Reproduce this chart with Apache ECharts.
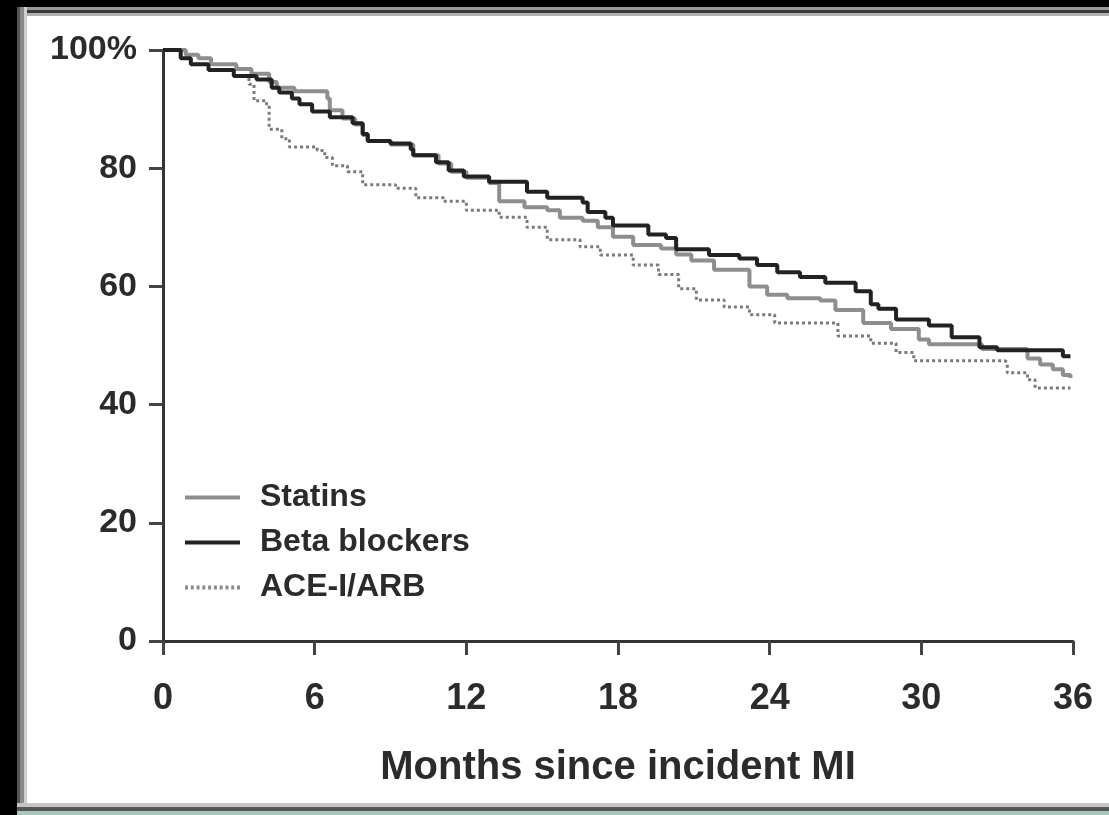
<!DOCTYPE html>
<html>
<head>
<meta charset="utf-8">
<script src="https://cdn.jsdelivr.net/npm/echarts@6/dist/echarts.min.js"></script>
<style>
  html, body { margin: 0; padding: 0; background: #000; }
  #frame { position: absolute; left: 17px; top: 7px; width: 1092px; height: 808px; background: #fff; }
  #bt1 { position: absolute; left: 17px; top: 7px; width: 1092px; height: 3px; background: #9a9a9a; }
  #bt2 { position: absolute; left: 17px; top: 10px; width: 1092px; height: 3px; background: #3a3a3a; }
  #bt3 { position: absolute; left: 17px; top: 13px; width: 1092px; height: 3px; background: #b0b0b0; }
  #bl1 { position: absolute; left: 17px; top: 7px; width: 3px; height: 808px; background: #555; }
  #bl2 { position: absolute; left: 20px; top: 7px; width: 4px; height: 808px; background: #8a8a8a; }
  #bl3 { position: absolute; left: 24px; top: 7px; width: 3px; height: 808px; background: #cfcfcf; }
  #bb1 { position: absolute; left: 17px; top: 803px; width: 1092px; height: 4px; background: #c4c4c4; }
  #bb2 { position: absolute; left: 17px; top: 807px; width: 1092px; height: 4px; background: #555; }
  #bb3 { position: absolute; left: 17px; top: 811px; width: 1092px; height: 4px; background: #a6c6be; }
  #chart { position: absolute; left: 0; top: 0; width: 1109px; height: 815px; }
</style>
</head>
<body>
<div id="frame"></div>
<div id="bt1"></div><div id="bt2"></div><div id="bt3"></div>
<div id="bl1"></div><div id="bl2"></div><div id="bl3"></div>
<div id="bb1"></div><div id="bb2"></div><div id="bb3"></div>
<div id="chart"></div>
<script>
// ---- Data (months since incident MI, % adherent) ----
const xTicks = [0, 6, 12, 18, 24, 30, 36];
const yTicks = [0, 20, 40, 60, 80, 100];
const seriesNames = ['Statins', 'Beta blockers', 'ACE-I/ARB'];

const statinsMonths = [0,0.9,1.4,1.9,2.9,3.5,4.2,4.5,5.2,6.5,6.6,7.1,7.6,7.9,8.1,9.0,9.9,10.9,11.4,12.0,12.9,13.3,14.3,15.2,15.7,16.6,17.2,17.8,18.6,19.7,20.3,20.9,21.8,23.2,23.9,24.7,26.0,26.6,27.7,28.8,29.9,30.3,32.4,34.2,34.7,35.2,35.6,35.9];
const statinsValues = [100,99.2,98.6,97.6,96.8,96,94.6,93.6,93,91.8,89.8,88.4,87.4,85.6,84.6,84,82.2,80.8,79.4,78.4,77.5,74.4,73.4,72.9,71.6,71.1,70,68.4,67,66.4,65.4,64.4,62.8,60,58.6,58,57.6,56,53.8,52.8,51,50.2,49.4,47.8,46.8,46,45,44.5];

const betaMonths = [0,0.7,1.1,1.8,2.8,3.7,4.3,4.6,5.1,5.4,5.9,6.6,7.5,7.9,8.1,9.0,9.8,9.9,10.8,11.3,11.9,12.9,14.4,15.2,16.6,16.8,17.5,17.8,19.2,19.9,20.3,21.6,22.8,23.5,24.3,25.2,26.2,27.4,28.0,28.3,29.0,30.3,31.2,32.3,33.0,35.6,35.9];
const betaValues = [100,98.6,97.6,96.6,95.6,95,93.6,92.8,91.8,90.8,89.6,88.6,87.6,85.8,84.6,84.2,83.2,82.2,81,79.6,78.6,77.7,76,75,74.2,72.6,71.6,70.3,68.8,68.2,66.3,65.3,64.7,63.6,62.4,61.6,60.6,59.2,57,56.2,54.4,53.4,51.4,49.7,49.2,48.2,48.2];

const aceMonths = [0,0.7,1.1,1.8,2.8,3.4,3.6,4.1,4.2,4.7,5.0,6.1,6.4,6.7,7.3,7.9,9.2,10.0,11.1,12.0,13.3,14.4,15.2,16.5,17.3,18.6,19.6,20.4,21.1,22.2,23.2,24.2,26.7,28.0,29.0,29.7,33.3,33.4,34.2,34.5,35.9];
const aceValues = [100,98.6,97.6,96.6,95.6,94.2,91.4,90.6,86.6,85,83.6,83,81.8,80.4,79.4,77.2,76.6,75,74.4,72.9,71.7,70,67.9,66.7,65.3,63.6,62,59.6,57.7,56.5,55.2,53.8,51.6,50.4,48.8,47.4,47.2,45.4,44.2,42.8,42.8];

function zip(a, b) { return a.map((m, i) => [m, b[i]]); }

const FONT = '"Liberation Sans", Arial, Helvetica, sans-serif';
const TXT = '#2b2b2b';

// legend icons: solid bar and dotted bar
const solidIcon = 'path://M0,0H55V4H0Z';
let dots = '';
for (let i = 0; i < 10; i++) { const x = i * 5.8; dots += 'M' + x + ',0H' + (x + 3) + 'V4H' + x + 'Z'; }
const dottedIcon = 'path://' + dots;

const chart = echarts.init(document.getElementById('chart'), null, { renderer: 'canvas' });
chart.setOption({
  backgroundColor: 'transparent',
  animation: false,
  grid: { left: 163, right: 36, top: 50, bottom: 174, containLabel: false },
  legend: {
    orient: 'vertical',
    left: 185,
    top: 481,
    padding: 0,
    itemGap: 12,
    itemWidth: 55,
    itemHeight: 4,
    data: [
      { name: seriesNames[0], icon: solidIcon },
      { name: seriesNames[1], icon: solidIcon },
      { name: seriesNames[2], icon: dottedIcon }
    ],
    textStyle: { fontFamily: FONT, fontWeight: 'bold', fontSize: 32, color: TXT, lineHeight: 33, padding: [0, 0, 0, 15] }
  },
  xAxis: {
    type: 'value',
    min: xTicks[0],
    max: xTicks[xTicks.length - 1],
    interval: 6,
    name: 'Months since incident MI',
    nameLocation: 'middle',
    nameGap: 107,
    nameTextStyle: { fontFamily: FONT, fontWeight: 'bold', fontSize: 40, color: TXT },
    axisLine: { show: true, lineStyle: { color: '#333', width: 3 } },
    axisTick: { show: true, inside: false, length: 14, lineStyle: { color: '#444', width: 3 } },
    axisLabel: { margin: 40, fontFamily: FONT, fontWeight: 'bold', fontSize: 36, color: TXT },
    splitLine: { show: false }
  },
  yAxis: {
    type: 'value',
    min: yTicks[0],
    max: yTicks[yTicks.length - 1],
    interval: 20,
    axisLine: { show: true, lineStyle: { color: '#333', width: 3 } },
    axisTick: { show: true, inside: false, length: 14, lineStyle: { color: '#444', width: 3 } },
    axisLabel: {
      margin: 26, fontFamily: FONT, fontWeight: 'bold', fontSize: 34, color: TXT,
      formatter: v => (v === 100 ? '100%' : String(v))
    },
    splitLine: { show: false }
  },
  series: [
    {
      name: seriesNames[0], type: 'line', step: 'end', symbol: 'none', z: 2,
      data: zip(statinsMonths, statinsValues),
      lineStyle: { color: '#8e8e8e', width: 4 }, itemStyle: { color: '#8e8e8e' }
    },
    {
      name: seriesNames[2], type: 'line', step: 'end', symbol: 'none', z: 3,
      data: zip(aceMonths, aceValues),
      lineStyle: { color: '#7a7a7a', width: 3, type: [3, 3] }, itemStyle: { color: '#8a8a8a' }
    },
    {
      name: seriesNames[1], type: 'line', step: 'end', symbol: 'none', z: 4,
      data: zip(betaMonths, betaValues),
      lineStyle: { color: '#222', width: 4 }, itemStyle: { color: '#222' }
    }
  ]
});
</script>
</body>
</html>
